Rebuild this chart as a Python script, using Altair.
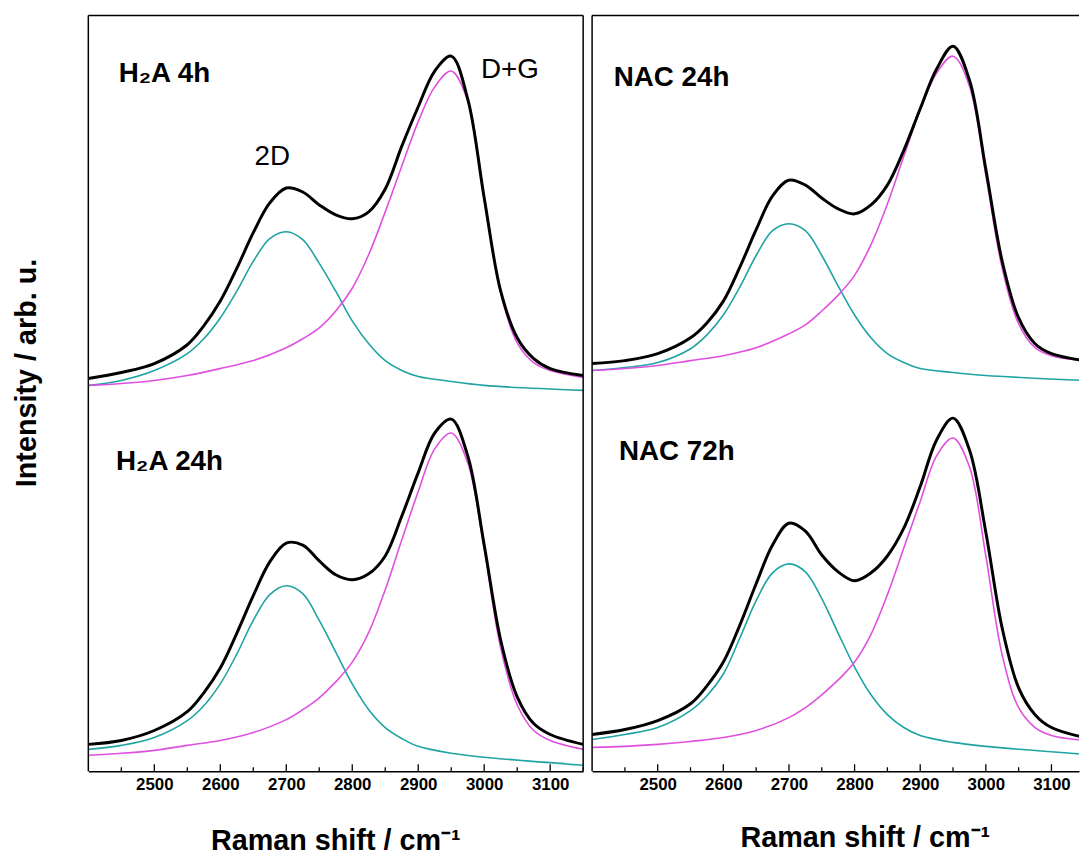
import altair as alt
import pandas as pd

# ---------------- data ----------------
X_DATA = [2400, 2450, 2500, 2550, 2575, 2600, 2625, 2650, 2675, 2700, 2725, 2750, 2775,
          2800, 2825, 2850, 2875, 2900, 2925, 2950, 2975, 3000, 3025, 3050, 3075, 3100, 3150]
X_2D = [2400, 2450, 2500, 2550, 2575, 2600, 2625, 2650, 2675, 2700, 2725, 2750, 2775,
        2800, 2825, 2850, 2875, 2900, 2950, 3000, 3150]
X_DG = [2400, 2450, 2500, 2550, 2600, 2650, 2700, 2725, 2750, 2775, 2800, 2825, 2850,
        2875, 2900, 2925, 2950, 2975, 3000, 3025, 3050, 3075, 3100, 3150]

# H2A 4h (upper left, offset spectrum)
H2A4_DATA = [396, 402, 411, 430, 449, 474, 507, 543, 573, 588, 584, 571, 561,
             557, 564, 587, 630, 670, 706, 721, 678, 578, 484, 437, 416, 406, 399]
H2A4_2D = [389, 394, 404, 421, 436, 457, 484, 514, 537, 544, 536, 512, 484,
           454, 431, 414, 404, 398, 393, 389, 384]
H2A4_DG = [389, 391, 394, 399, 406, 414, 427, 436, 447, 464, 487, 521, 564,
           610, 655, 690, 706, 676, 580, 482, 432, 412, 404, 397]

# H2A 24h (lower left)
H2A24_DATA = [27, 31, 41, 60, 79, 104, 139, 177, 211, 230, 228, 212, 198,
              193, 199, 217, 257, 301, 341, 355, 318, 228, 132, 75, 48, 37, 27]
H2A24_2D = [22, 26, 34, 51, 66, 88, 118, 152, 178, 187, 179, 152, 120,
            88, 62, 44, 33, 25, 18, 14, 6]
H2A24_DG = [16, 18, 21, 26, 31, 39, 52, 62, 74, 90, 110, 140, 183,
            233, 282, 325, 341, 311, 224, 124, 67, 41, 31, 22]

# NAC 24h (upper right)
NAC24_DATA = [411, 414, 421, 437, 452, 474, 508, 546, 580, 596, 591, 578, 567,
              562, 571, 591, 626, 668, 708, 731, 697, 607, 514, 457, 431, 421, 414]
NAC24_2D = [404, 407, 412, 426, 440, 460, 488, 520, 545, 552, 545, 520, 489,
            460, 437, 421, 412, 406, 402, 399, 394]
NAC24_DG = [404, 406, 409, 414, 419, 427, 441, 450, 464, 480, 500, 531, 572,
            620, 667, 704, 721, 691, 601, 507, 451, 427, 419, 414]

# NAC 72h (lower right)
NAC72_DATA = [37, 42, 51, 68, 86, 110, 147, 189, 228, 250, 242, 218, 201,
              192, 200, 217, 245, 287, 334, 356, 324, 241, 144, 84, 57, 44, 34]
NAC72_2D = [32, 37, 44, 61, 76, 98, 134, 172, 200, 209, 201, 174, 139,
            105, 77, 57, 44, 36, 29, 25, 17]
NAC72_DG = [24, 25, 27, 30, 34, 41, 54, 64, 77, 92, 110, 138, 178,
            225, 272, 318, 336, 307, 217, 117, 64, 44, 36, 31]

MAJOR_TICKS = [2500, 2600, 2700, 2800, 2900, 3000, 3100]
MINOR_TICKS = [2450, 2550, 2650, 2750, 2850, 2950, 3050, 3150]

LEFT_LABELS = ["H\u2082A 4h", "H\u2082A 24h"]
LEFT_LABEL_X = [2446, 2442]
LEFT_LABEL_Y = [695, 304]
RIGHT_LABELS = ["NAC 24h", "NAC 72h"]
RIGHT_LABEL_X = [2433, 2441]
RIGHT_LABEL_Y = [691, 314]
PEAK_LABELS = ["2D", "D+G"]
PEAK_LABEL_X = [2652, 2995]
PEAK_LABEL_Y = [611, 699]

FONT = "Liberation Sans"
H = 762
TEAL = "#1FA3A3"
MAGENTA = "#E050E0"


def frame(x, y, spec):
    return pd.DataFrame({"x": x, "y": y, "spec": spec})


def panel(width, xmax, data_sets, labels, peak, show_y_title, title_x, title_y):
    xscale = alt.Scale(domain=[2400, xmax], nice=False, zero=False)
    yscale = alt.Scale(domain=[0, H], nice=False, zero=False)
    xaxis = alt.Axis(values=MAJOR_TICKS, format="d", labelFontSize=17,
                     labelFontWeight="bold", labelFont=FONT, labelColor="black",
                     ticks=False, tickSize=0, domainColor="black", domainWidth=1.5,
                     grid=False, labelPadding=5,
                     title="Raman shift / cm\u207b\u00b9", titleFont=FONT,
                     titleFontSize=29, titleFontWeight="bold", titleColor="black",
                     titleY=title_y, titleBaseline="alphabetic", titleX=title_x)
    if show_y_title:
        yaxis = alt.Axis(title="Intensity / arb. u.", labels=False, ticks=False,
                         domain=False, grid=False, titleFont=FONT, titleFontSize=29,
                         titleFontWeight="bold", titleColor="black", titleAngle=270,
                         titleX=-62, titleY=360, titleBaseline="middle",
                         titleAlign="center")
    else:
        yaxis = None

    X = lambda: alt.X("x:Q", scale=xscale, axis=xaxis)
    Y = lambda: alt.Y("y:Q", scale=yscale, axis=yaxis)

    meas = pd.concat([frame(X_DATA, d[0], i) for i, d in enumerate(data_sets)])
    d2 = pd.concat([frame(X_2D, d[1], i) for i, d in enumerate(data_sets)])
    dg = pd.concat([frame(X_DG, d[2], i) for i, d in enumerate(data_sets)])

    layers = []
    layers.append(alt.Chart(d2).mark_line(color=TEAL, strokeWidth=1.6,
                                          interpolate="catmull-rom", clip=True)
                  .encode(x=X(), y=Y(), detail="spec:N"))
    layers.append(alt.Chart(dg).mark_line(color=MAGENTA, strokeWidth=1.6,
                                          interpolate="catmull-rom", clip=True)
                  .encode(x=X(), y=Y(), detail="spec:N"))
    layers.append(alt.Chart(meas).mark_line(color="black", strokeWidth=3,
                                            interpolate="catmull-rom", clip=True)
                  .encode(x=X(), y=Y(), detail="spec:N"))

    lab = pd.DataFrame({"x": labels[0], "y": labels[1], "t": labels[2]})
    layers.append(alt.Chart(lab).mark_text(font=FONT, fontSize=28, fontWeight="bold",
                                           align="left", baseline="alphabetic",
                                           color="black")
                  .encode(x=X(), y=Y(), text="t:N"))
    if peak is not None:
        pk = pd.DataFrame({"x": peak[0], "y": peak[1], "t": peak[2]})
        layers.append(alt.Chart(pk).mark_text(font=FONT, fontSize=28,
                                              align="left", baseline="alphabetic",
                                              color="black")
                      .encode(x=X(), y=Y(), text="t:N"))

    major = pd.DataFrame({"x": MAJOR_TICKS})
    minor = pd.DataFrame({"x": MINOR_TICKS})
    layers.append(alt.Chart(major).mark_rule(color="black", strokeWidth=1.3, clip=True)
                  .encode(x=X(), y=alt.value(H), y2=alt.value(H - 7)))
    layers.append(alt.Chart(minor).mark_rule(color="black", strokeWidth=1.3, clip=True)
                  .encode(x=X(), y=alt.value(H), y2=alt.value(H - 4)))

    one = alt.Data(values=[{}])
    layers.append(alt.Chart(one).mark_rule(color="black", strokeWidth=1.5)
                  .encode(x=alt.value(0), y=alt.value(0), y2=alt.value(H)))
    layers.append(alt.Chart(one).mark_rule(color="black", strokeWidth=1.5)
                  .encode(x=alt.value(0), x2=alt.value(width), y=alt.value(0)))
    if xmax >= 3150:
        layers.append(alt.Chart(one).mark_rule(color="black", strokeWidth=1.5)
                      .encode(x=alt.value(width), y=alt.value(0), y2=alt.value(H)))

    return alt.layer(*layers).properties(width=width, height=H)


left = panel(499, 3150,
             [(H2A4_DATA, H2A4_2D, H2A4_DG), (H2A24_DATA, H2A24_2D, H2A24_DG)],
             (LEFT_LABEL_X, LEFT_LABEL_Y, LEFT_LABELS),
             (PEAK_LABEL_X, PEAK_LABEL_Y, PEAK_LABELS), True, 249, 79)
right = panel(491, 3142,
              [(NAC24_DATA, NAC24_2D, NAC24_DG), (NAC72_DATA, NAC72_2D, NAC72_DG)],
              (RIGHT_LABEL_X, RIGHT_LABEL_Y, RIGHT_LABELS),
              None, False, 275, 76)

chart = (alt.hconcat(left, right, spacing=7)
         .configure_view(stroke=None)
         .properties(padding={"left": 5, "top": 3, "right": 0, "bottom": 0},
                     background="white"))

chart.save("out.html", embed_options={"renderer": "svg", "actions": False})
